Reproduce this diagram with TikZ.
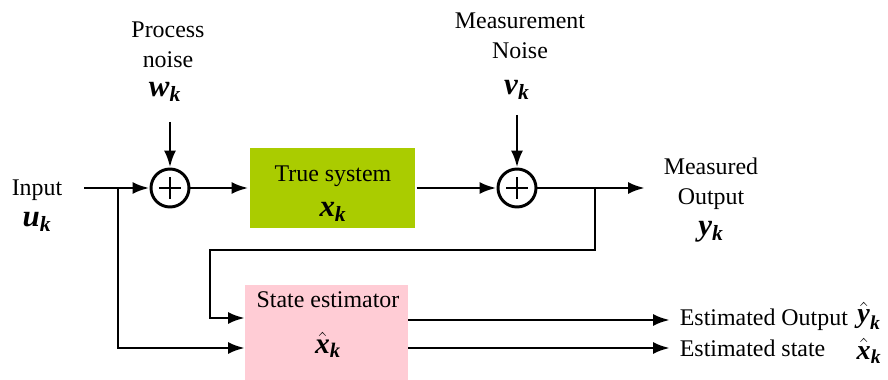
\documentclass[tikz,border=0pt]{standalone}
\usepackage{amsmath}
\usepackage{fontspec}
\setmainfont{Liberation Serif}
\usetikzlibrary{arrows.meta}
\definecolor{sysgreen}{RGB}{170,204,0}
\definecolor{estpink}{RGB}{255,204,213}
\newcommand{\bv}[1]{\textbf{\textit{#1}}}
\newcommand{\bvar}[2]{\bv{#1}$_{\bv{#2}}$}
\newcommand{\bhat}[2]{$\hat{\text{\bv{#1}}}_{\bv{#2}}$}

\begin{document}
\begin{tikzpicture}[x=0.025cm,y=-0.025cm,line width=2.1pt,>={Latex[length=12pt,width=8.5pt]},
    every node/.style={font=\fontsize{17}{21}\selectfont},
    var/.style={font=\fontsize{22}{24}\selectfont,inner sep=0pt},
    sumnode/.style={circle,draw,minimum size=0.95cm,inner sep=0pt,
      path picture={\draw[line width=2.1pt]
        ([xshift=-0.27cm]path picture bounding box.center) -- ([xshift=0.27cm]path picture bounding box.center)
        ([yshift=-0.27cm]path picture bounding box.center) -- ([yshift=0.27cm]path picture bounding box.center);}}]
    \useasboundingbox (0,0) rectangle (888,380);

    % blocks
    \node[sumnode] (sumw) at (170,188) {};
    \node[sumnode] (sumv) at (517,188) {};
    \node[fill=sysgreen,minimum width=4.125cm,minimum height=2cm] (sys) at (332.5,188) {};
    \node[fill=estpink,minimum width=4.075cm,minimum height=2.375cm] (est) at (326.5,332.5) {};
    \node (syslbl) at (333,176) {True system};
    \node[var] (sysx) at (333,212) {\bvar{x}{k}};
    \node[inner sep=1pt] (estlbl) at (328,300) {State estimator};
    \node[var,font=\fontsize{21}{23}\selectfont] (estx) at (328,345) {\bhat{x}{k}};

    % labels
    \node (inlbl) at (37,190) {Input};
    \node[var] (u) at (37,222) {\bvar{u}{k}};
    \node[align=center] (wlbl) at (168,45) {Process\\noise};
    \node[var] (w) at (165,92) {\bvar{w}{k}};
    \node[align=center] (vlbl) at (520,36) {Measurement\\Noise};
    \node[var] (v) at (517,90) {\bvar{v}{k}};
    \node[align=center] (ylbl) at (711,184) {Measured\\Output};
    \node[var] (y) at (711,232) {\bvar{y}{k}};
    \node[anchor=west,inner sep=1pt] (eylbl) at (677,320) {Estimated Output};
    \node[var,font=\fontsize{20}{22}\selectfont] (ey) at (869,316) {\bhat{y}{k}};
    \node[anchor=west,inner sep=1pt] (exlbl) at (677,348) {Estimated state};
    \node[var,font=\fontsize{20}{22}\selectfont] (ex) at (869,351) {\bhat{x}{k}};

    % points
    \coordinate (in) at (84,188);
    \coordinate (ubr) at (118,188);
    \coordinate (wtop) at (170,122);
    \coordinate (vtop) at (517,115);
    \coordinate (out) at (645,188);
    \coordinate (ybr) at (595,188);
    \coordinate (fb1) at (595,250);
    \coordinate (fb2) at (210,250);
    \coordinate (estin1) at (245,318);
    \coordinate (estin2) at (245,348);
    \coordinate (estout1) at (408,320);
    \coordinate (estout2) at (408,348);
    \coordinate (ey0) at (670,320);
    \coordinate (ex0) at (670,348);

    % connectors
    \draw[->] (in) -- (sumw);
    \draw[->] (wtop) -- (sumw);
    \draw[->] (sumw) -- (sys);
    \draw[->] (sys) -- (sumv);
    \draw[->] (vtop) -- (sumv);
    \draw[->] (sumv) -- (out);
    \draw[->] (ubr) |- (estin2);
    \draw[->] (ybr) -- (fb1) -- (fb2) |- (estin1);
    \draw[->] (estout1) -- (ey0);
    \draw[->] (estout2) -- (ex0);
\end{tikzpicture}
\end{document}
